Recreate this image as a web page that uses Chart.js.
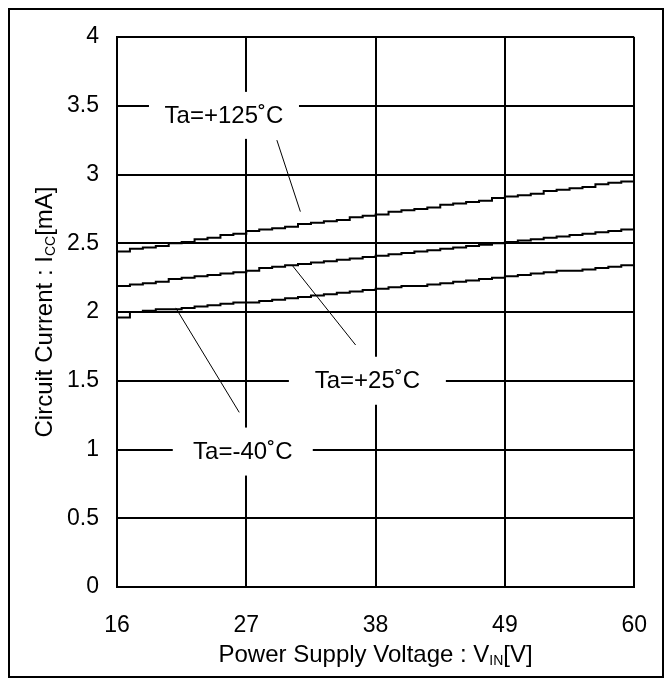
<!DOCTYPE html>
<html>
<head>
<meta charset="utf-8">
<script src="https://cdn.jsdelivr.net/npm/chart.js@4.4.0/dist/chart.umd.min.js"></script>
<style>
  body { margin: 0; background: #fff; }
  canvas { display: block; }
</style>
</head>
<body>
<canvas id="chart" width="672" height="686"></canvas>
<script>
// supply voltage samples [V]
var vin = [16, 17.1, 18.2, 19.3, 20.4, 21.5, 22.6, 23.7, 24.8, 25.9,
           27, 28.1, 29.2, 30.3, 31.4, 32.5, 33.6, 34.7, 35.8, 36.9,
           38, 39.1, 40.2, 41.3, 42.4, 43.5, 44.6, 45.7, 46.8, 47.9,
           49, 50.1, 51.2, 52.3, 53.4, 54.5, 55.6, 56.7, 57.8, 58.9, 60];

// circuit current [mA] per temperature
var icc125 = [2.44, 2.46, 2.47, 2.48, 2.50, 2.51, 2.53, 2.54, 2.56, 2.57,
              2.59, 2.60, 2.61, 2.62, 2.64, 2.65, 2.66, 2.67, 2.69, 2.70,
              2.71, 2.73, 2.74, 2.75, 2.76, 2.78, 2.79, 2.80, 2.81, 2.83,
              2.84, 2.85, 2.86, 2.88, 2.89, 2.90, 2.91, 2.93, 2.94, 2.95, 2.96];
var icc25 = [2.19, 2.20, 2.21, 2.22, 2.24, 2.25, 2.26, 2.27, 2.28, 2.29,
             2.30, 2.32, 2.33, 2.34, 2.35, 2.36, 2.37, 2.38, 2.39, 2.40,
             2.41, 2.42, 2.43, 2.44, 2.45, 2.46, 2.47, 2.48, 2.49, 2.50,
             2.51, 2.52, 2.53, 2.54, 2.55, 2.56, 2.57, 2.58, 2.59, 2.60, 2.62];
var iccM40 = [1.96, 2.00, 2.01, 2.02, 2.02, 2.03, 2.04, 2.05, 2.06, 2.07,
              2.07, 2.08, 2.09, 2.10, 2.11, 2.12, 2.13, 2.14, 2.15, 2.16,
              2.17, 2.18, 2.19, 2.19, 2.20, 2.21, 2.22, 2.23, 2.24, 2.25,
              2.26, 2.27, 2.28, 2.29, 2.30, 2.30, 2.31, 2.32, 2.33, 2.34, 2.35];

var seriesNames = ['Ta=+125˚C', 'Ta=+25˚C', 'Ta=-40˚C'];
var xTicks = [16, 27, 38, 49, 60];
var yTicks = [0, 0.5, 1, 1.5, 2, 2.5, 3, 3.5, 4];

var FONT = '"Liberation Sans", Arial, sans-serif';

function points(ys) {
    return vin.map(function (v, i) { return { x: v, y: ys[i] }; });
}

function series(label, ys) {
    return {
        label: label,
        data: points(ys),
        borderColor: '#000',
        borderWidth: 2,
        pointRadius: 0,
        stepped: 'before',
        fill: false
    };
}

// label boxes on the plot, with a thin leader line down to each curve
var callouts = [
    { text: seriesNames[0], at: [25.1, 3.43], w: 150, h: 47, from: [29.6, 3.25], to: [31.6, 2.73] },
    { text: seriesNames[1], at: [37.3, 1.50], w: 157, h: 48, from: [30.9, 2.34], to: [36.3, 1.76] },
    { text: seriesNames[2], at: [26.7, 0.985], w: 140, h: 48, from: [21.0, 2.03], to: [26.4, 1.27] }
];

var pageFrame = {
    id: 'pageFrame',
    beforeDraw: function (chart) {
        var c = chart.ctx;
        c.save();
        c.fillStyle = '#fff';
        c.fillRect(0, 0, chart.width, chart.height);
        c.restore();
    },
    afterDraw: function (chart) {
        var c = chart.ctx;
        c.save();
        c.strokeStyle = '#000';
        c.lineWidth = 2;
        c.strokeRect(9, 9, 654, 668);
        c.restore();
    }
};

var calloutPlugin = {
    id: 'callouts',
    afterDatasetsDraw: function (chart) {
        var c = chart.ctx, xs = chart.scales.x, ys = chart.scales.y;
        c.save();
        callouts.forEach(function (o) {
            var cx = xs.getPixelForValue(o.at[0]);
            var cy = ys.getPixelForValue(o.at[1]);
            c.fillStyle = '#fff';
            c.fillRect(cx - o.w / 2, cy - o.h / 2, o.w, o.h);
            c.fillStyle = '#000';
            c.font = '24px ' + FONT;
            c.textAlign = 'center';
            c.textBaseline = 'middle';
            c.fillText(o.text, cx, cy + 1);
            c.beginPath();
            c.lineWidth = 1;
            c.strokeStyle = '#000';
            c.moveTo(xs.getPixelForValue(o.from[0]), ys.getPixelForValue(o.from[1]));
            c.lineTo(xs.getPixelForValue(o.to[0]), ys.getPixelForValue(o.to[1]));
            c.stroke();
        });
        c.restore();
    }
};

// draws "main" + small "sub" + "tail" from x, left aligned
function drawSubText(c, x, y, main, sub, tail) {
    c.font = '24px ' + FONT;
    c.fillText(main, x, y);
    x += c.measureText(main).width;
    c.font = '14px ' + FONT;
    c.fillText(sub, x, y + 3);
    x += c.measureText(sub).width;
    c.font = '24px ' + FONT;
    c.fillText(tail, x, y);
}

function subTextWidth(c, main, sub, tail) {
    c.font = '24px ' + FONT;
    var w = c.measureText(main).width + c.measureText(tail).width;
    c.font = '14px ' + FONT;
    return w + c.measureText(sub).width;
}

var axisTitles = {
    id: 'axisTitles',
    afterDraw: function (chart) {
        var c = chart.ctx, a = chart.chartArea;
        c.save();
        c.fillStyle = '#000';
        c.textAlign = 'left';
        c.textBaseline = 'alphabetic';

        var w = subTextWidth(c, 'Power Supply Voltage : V', 'IN', '[V]');
        drawSubText(c, (a.left + a.right) / 2 - w / 2, 662, 'Power Supply Voltage : V', 'IN', '[V]');

        c.translate(52, (a.top + a.bottom) / 2);
        c.rotate(-Math.PI / 2);
        w = subTextWidth(c, 'Circuit Current : I', 'CC', '[mA]');
        drawSubText(c, -w / 2, 0, 'Circuit Current : I', 'CC', '[mA]');
        c.restore();
    }
};

new Chart(document.getElementById('chart'), {
    type: 'line',
    data: {
        datasets: [
            series(seriesNames[0], icc125),
            series(seriesNames[1], icc25),
            series(seriesNames[2], iccM40)
        ]
    },
    options: {
        responsive: false,
        devicePixelRatio: 1,
        animation: false,
        layout: { padding: { top: 37, right: 36, left: 0, bottom: 0 } },
        plugins: { legend: { display: false }, tooltip: { enabled: false } },
        scales: {
            x: {
                type: 'linear',
                min: 16,
                max: 60,
                afterBuildTicks: function (s) { s.ticks = xTicks.map(function (v) { return { value: v }; }); },
                afterFit: function (s) { s.height = 99; },
                border: { color: '#000', width: 2 },
                grid: { color: '#000', lineWidth: 2, drawTicks: false },
                ticks: { color: '#000', font: { family: FONT, size: 23 }, padding: 25, maxRotation: 0 }
            },
            y: {
                min: 0,
                max: 4,
                afterBuildTicks: function (s) { s.ticks = yTicks.map(function (v) { return { value: v }; }); },
                afterFit: function (s) { s.width = 117; },
                border: { color: '#000', width: 2 },
                grid: { color: '#000', lineWidth: 2, drawTicks: false },
                ticks: {
                    color: '#000',
                    font: { family: FONT, size: 23 },
                    padding: 18,
                    callback: function (v) { return String(v); }
                }
            }
        }
    },
    plugins: [pageFrame, calloutPlugin, axisTitles]
});
</script>
</body>
</html>
